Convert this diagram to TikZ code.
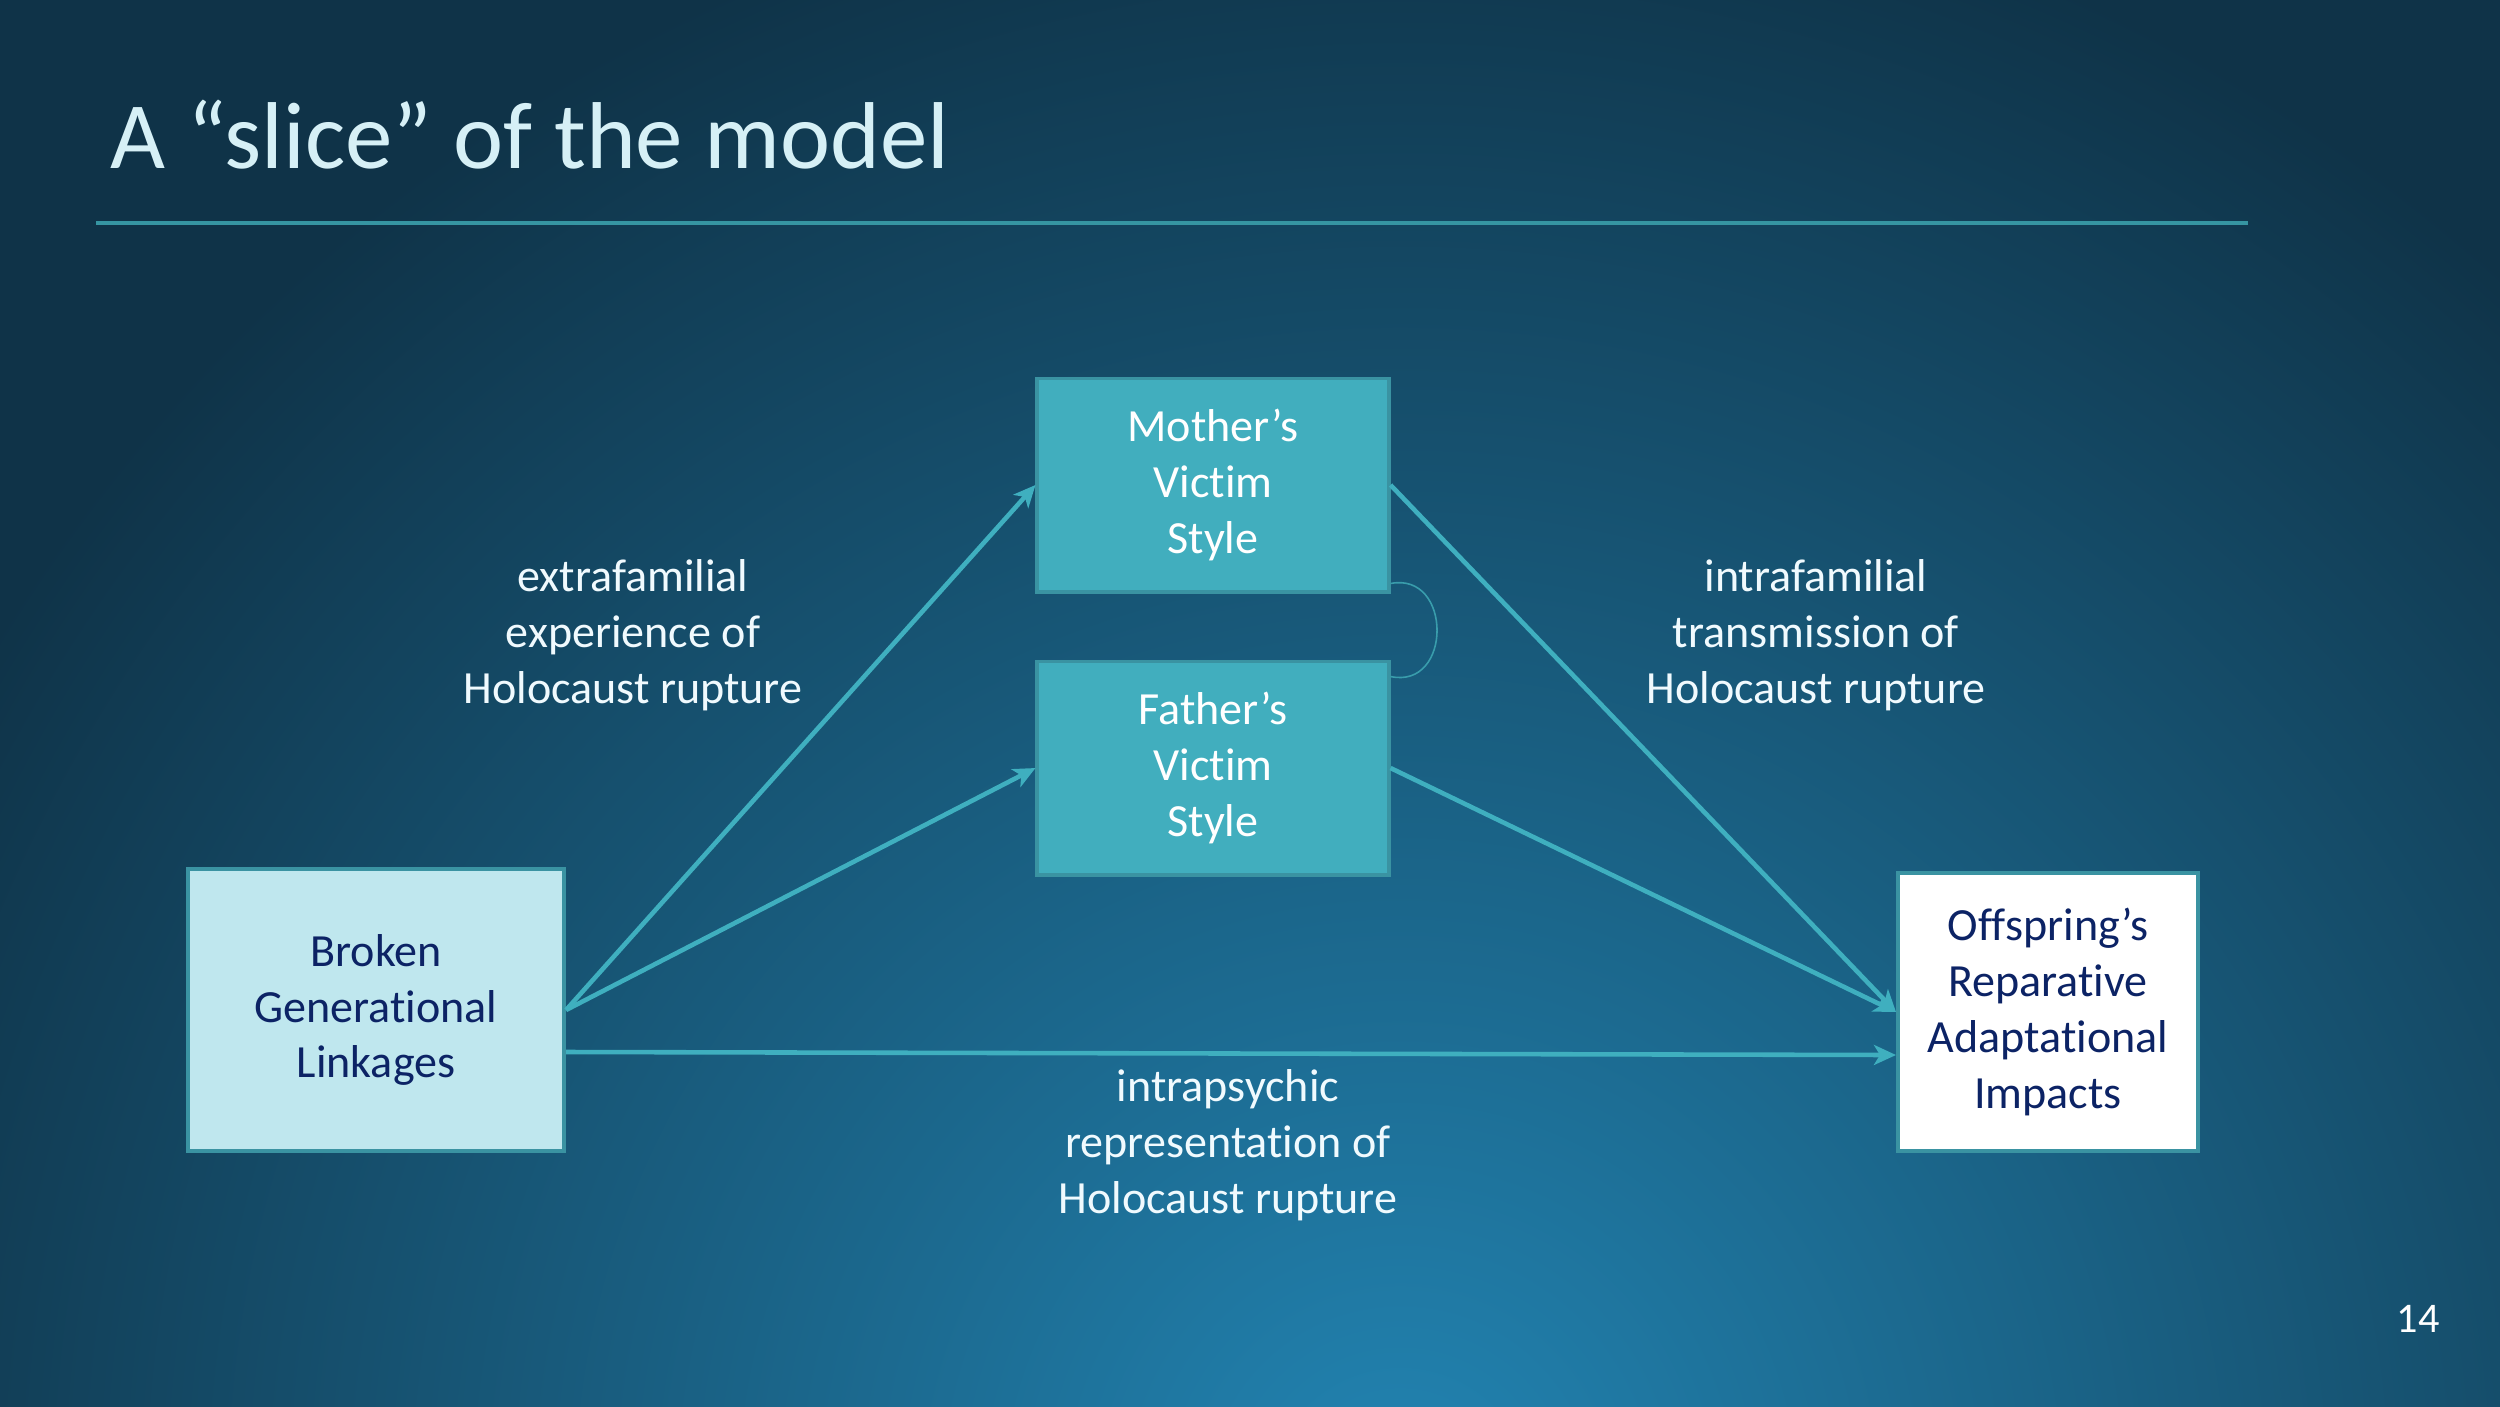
\documentclass[tikz,border=0pt]{standalone}
\usepackage{fontspec}
\setmainfont{Carlito}[Ligatures=NoCommon]
\usepackage{xcolor}
\usetikzlibrary{positioning, arrows.meta, calc}

\definecolor{bgdark}{HTML}{0F3348}
\definecolor{bglight}{HTML}{2284B2}
\definecolor{tealbox}{HTML}{41AEBE}
\definecolor{tealedge}{HTML}{3A93A2}
\definecolor{palebox}{HTML}{BFE7EE}
\definecolor{navytext}{HTML}{0C2365}
\definecolor{arrowcol}{HTML}{3FAFBF}
\definecolor{titlecol}{HTML}{D6F0F6}

\begin{document}
\begin{tikzpicture}[x=0.01cm, y=-0.01cm,
	every node/.style={font=\fontsize{13.1}{15.9}\selectfont},
	varbox/.style={draw=tealedge, line width=1.1pt, align=center, inner sep=0pt},
	stylebox/.style={varbox, fill=tealbox, text=white, minimum width=3.51cm, minimum height=2.13cm},
	pathlabel/.style={align=center, text=white!94!cyan},
	link/.style={draw=arrowcol, line width=1.3pt, -{Stealth[length=0.22cm, width=0.2cm, inset=0.06cm]}}]
	% background
	\fill[bgdark] (0,0) rectangle (2500,1406);
	\begin{scope}
		\clip (0,0) rectangle (2500,1406);
		\shade[inner color=bglight, outer color=bgdark] (1400,1500) circle (16.5cm);
	\end{scope}
	\useasboundingbox (0,0) rectangle (2500,1406);
	
	% title
	\node[anchor=base west, text=titlecol, font=\fontsize{27}{30}\selectfont, inner sep=0pt] (title) at (110,168) {A “slice” of the model};
	\draw[draw=arrowcol!85!black, line width=0.9pt] (96,223) -- (2248,223);
	
	% boxes
	\node[varbox, fill=palebox, text=navytext, minimum width=3.76cm, minimum height=2.81cm] (broken) at (376,1010) {Broken\\Generational\\Linkages};
	\node[stylebox] (mother) at (1213,485) {Mother’s\\Victim\\Style};
	\node[stylebox, below=0.66cm of mother] (father) {Father’s\\Victim\\Style};
	\node[varbox, fill=white, text=navytext, minimum width=3.00cm, minimum height=2.78cm] (offspring) at (2048,1012) {Offspring’s\\Reparative\\Adaptational\\Impacts};
	
	% path labels
	\node[pathlabel] (extra) at (633,635) {extrafamilial\\experience of\\Holocaust rupture};
	\node[pathlabel] (intra) at (1816,635) {intrafamilial\\transmission of\\Holocaust rupture};
	\node[pathlabel] (psychic) at (1228,1145) {intrapsychic\\representation of\\Holocaust rupture};
	
	% page number
	\node[text=white, font=\fontsize{12}{14}\selectfont, anchor=base] (page) at (2418,1332) {14};
	
	% connectors
	\draw[link] (broken.east) -- (mother.west);
	\draw[link] (broken.east) -- (father.west);
	\draw[link] ($(broken.east)+(0,42)$) -- ($(offspring.west)+(0,43)$);
	\draw[link] (mother.east) -- (offspring.west);
	\draw[link] (father.east) -- (offspring.west);
	\draw[draw=arrowcol!90!black, line width=0.45pt] ($(mother.south east)+(0,-10)$) .. controls ($(mother.south east)+(62,-22)$) and ($(father.north east)+(62,30)$) .. ($(father.north east)+(0,17)$);
\end{tikzpicture}
\end{document}
